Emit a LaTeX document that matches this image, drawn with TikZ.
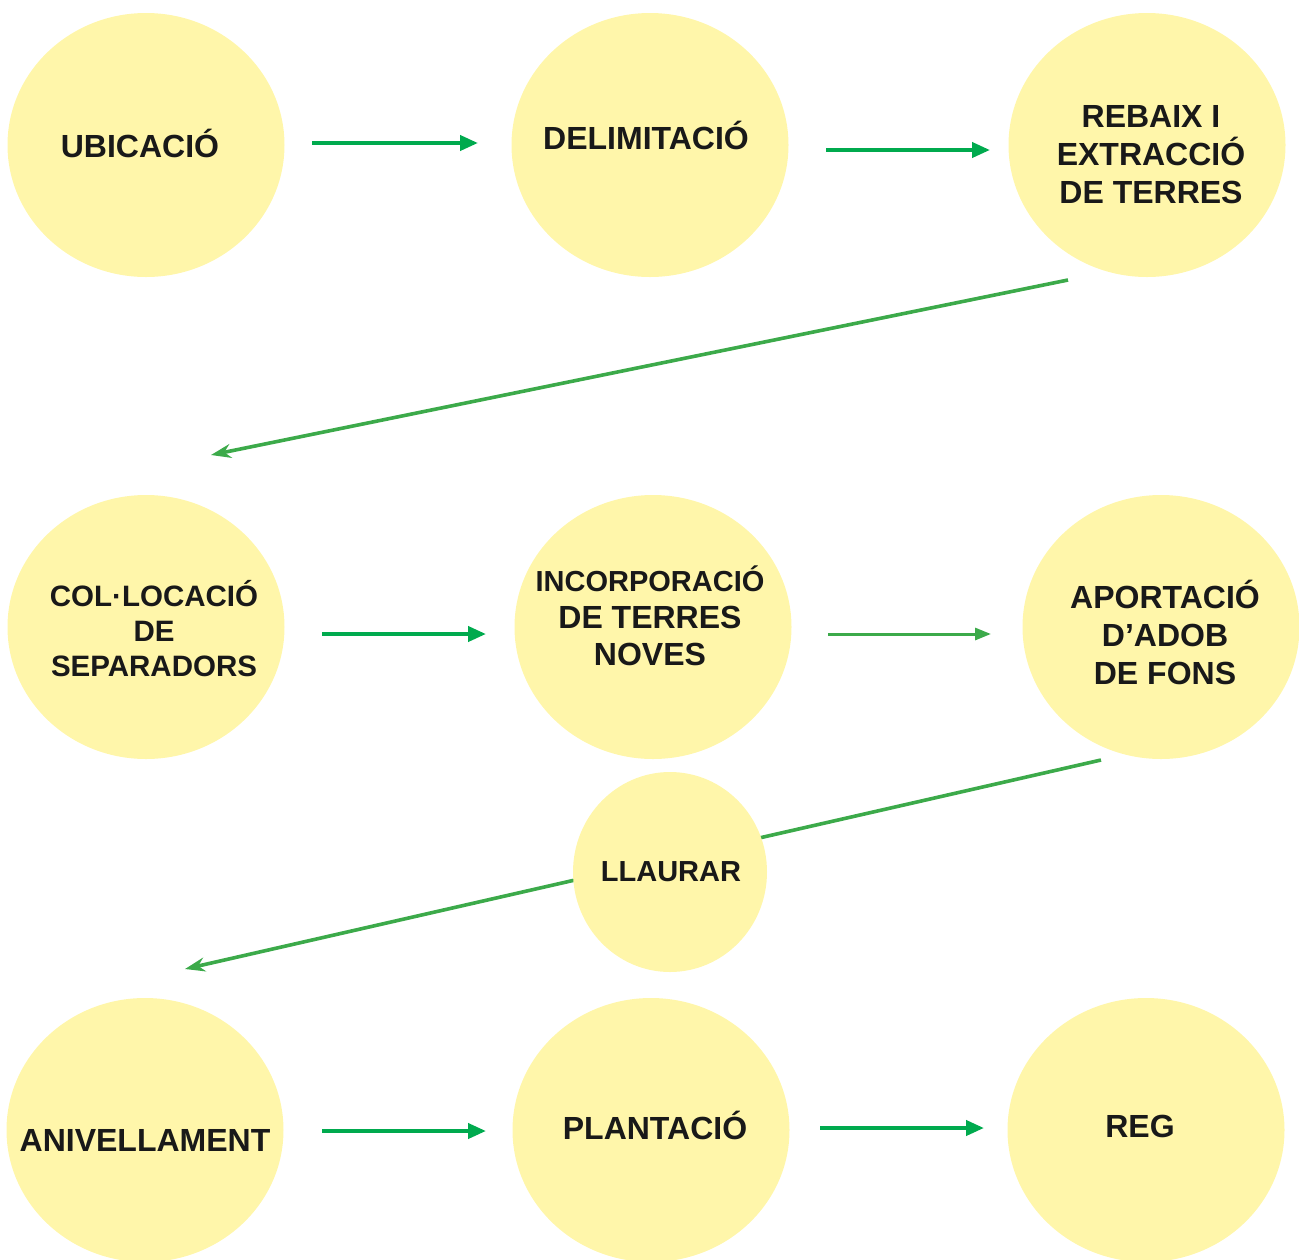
\documentclass[tikz,border=0pt]{standalone}
\usepackage{fontspec}
\setmainfont{Liberation Sans}
\usetikzlibrary{arrows.meta,shapes.geometric}
\definecolor{circfill}{RGB}{255,246,170}
\definecolor{arrgreen}{RGB}{0,170,78}
\definecolor{arrlight}{RGB}{60,170,74}
\tikzset{
  stepcirc/.style={ellipse, fill=circfill, draw=none, minimum width=277pt, minimum height=264pt, inner sep=0pt},
  smallcirc/.style={ellipse, fill=circfill, draw=none, minimum width=194pt, minimum height=200pt, inner sep=0pt},
  steptext/.style={font=\fontsize{32}{38}\selectfont\bfseries, text=black!90, align=center, inner sep=0pt},
  harrow/.style={draw=arrgreen, line width=4pt, -{Triangle[length=18pt,width=15pt]}},
  harrowl/.style={draw=arrlight, line width=3pt, -{Triangle[length=16pt,width=12pt]}},
  darrow/.style={draw=arrlight, line width=3.6pt, -{Stealth[length=20pt,width=14pt]}}
}
\begin{document}
\begin{tikzpicture}[x=1pt,y=-1pt]
\useasboundingbox (0,0) rectangle (1299,1259);
% diagonal connector behind LLAURAR
\coordinate (d2s) at (1101,760);
\coordinate (d2e) at (185,969);
\draw[darrow] (d2s) -- (d2e);
% circles
\node[stepcirc] (c1) at (146,145) {};
\node[stepcirc] (c2) at (650,145) {};
\node[stepcirc] (c3) at (1147,145) {};
\node[stepcirc] (c4) at (146,627) {};
\node[stepcirc] (c5) at (653,627) {};
\node[stepcirc] (c6) at (1161,627) {};
\node[smallcirc] (c7) at (670,872) {};
\node[stepcirc] (c8) at (145,1130) {};
\node[stepcirc] (c9) at (651,1130) {};
\node[stepcirc] (c10) at (1146,1130) {};
% texts
\node[steptext] (t1) at (140,143) {UBICACIÓ};
\node[steptext] (t2) at (646,135) {DELIMITACIÓ};
\node[steptext] (t3) at (1151,155) {REBAIX I\\EXTRACCIÓ\\DE TERRES};
\node[steptext, font=\fontsize{29.5}{35}\selectfont\bfseries] (t4) at (154,629) {COL·LOCACIÓ\\DE\\SEPARADORS};
\node[steptext, font=\fontsize{32}{37}\selectfont\bfseries] (t5) at (650,616) {{\fontsize{29}{37}\selectfont INCORPORACIÓ}\\DE TERRES\\NOVES};
\node[steptext] (t6) at (1165,632) {APORTACIÓ\\D’ADOB\\DE FONS};
\node[steptext, font=\fontsize{29}{35}\selectfont\bfseries] (t7) at (671,872) {LLAURAR};
\node[steptext] (t8) at (145,1140) {ANIVELLAMENT};
\node[steptext] (t9) at (655,1125) {PLANTACIÓ};
\node[steptext] (t10) at (1140,1126) {REG};
% horizontal connectors
\coordinate (a1s) at (312,143); \coordinate (a1e) at (478,143);
\coordinate (a2s) at (826,150); \coordinate (a2e) at (990,150);
\coordinate (a4s) at (322,634); \coordinate (a4e) at (486,634);
\coordinate (a5s) at (828,634); \coordinate (a5e) at (991,634);
\coordinate (a7s) at (322,1131); \coordinate (a7e) at (486,1131);
\coordinate (a8s) at (820,1128); \coordinate (a8e) at (984,1128);
\draw[harrow] (a1s) -- (a1e);
\draw[harrow] (a2s) -- (a2e);
\draw[harrow] (a4s) -- (a4e);
\draw[harrowl] (a5s) -- (a5e);
\draw[harrow] (a7s) -- (a7e);
\draw[harrow] (a8s) -- (a8e);
% diagonal connector 1
\coordinate (d1s) at (1068,280);
\coordinate (d1e) at (211,455);
\draw[darrow] (d1s) -- (d1e);
\end{tikzpicture}
\end{document}
